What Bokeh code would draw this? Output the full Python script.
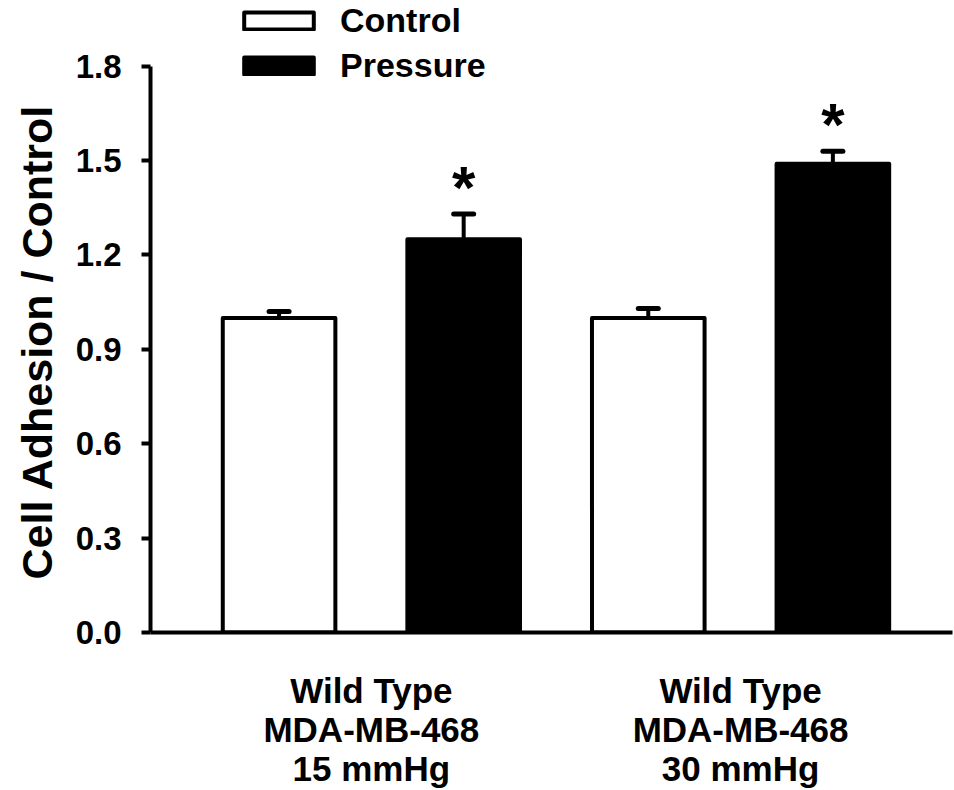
from bokeh.plotting import figure
from bokeh.models import (ColumnDataSource, Range1d, FixedTicker, Legend, LegendItem,
                          Whisker, TeeHead, Title)
from bokeh.core.properties import value
from bokeh.embed import file_html
from bokeh.resources import INLINE

# ---- data ----
groups = ["Wild Type\nMDA-MB-468\n15 mmHg", "Wild Type\nMDA-MB-468\n30 mmHg"]
series = ["Control", "Pressure"]
control_vals = [1.00, 1.00]
control_err = [0.02, 0.03]
pressure_vals = [1.25, 1.49]
pressure_err = [0.08, 0.04]
pressure_sig = ["*", "*"]
y_ticks = [0.0, 0.3, 0.6, 0.9, 1.2, 1.5, 1.8]
y_label = "Cell Adhesion / Control"

FONT = "Liberation Sans"

# positions: each group has 2 bars, uniformly spaced
def xpos(gi, si):
    return gi * 2 + si + 1

cx = [xpos(i, 0) for i in range(len(groups))]
px = [xpos(i, 1) for i in range(len(groups))]

src_c = ColumnDataSource(dict(x=cx, top=control_vals,
                              up=[v + e for v, e in zip(control_vals, control_err)]))
src_p = ColumnDataSource(dict(x=px, top=pressure_vals,
                              up=[v + e for v, e in zip(pressure_vals, pressure_err)],
                              sig=pressure_sig))

# frame spans full height above the x axis so the legend is not clipped;
# the y axis line itself is bounded to 0..1.8
y_max = 1.8 * 635 / 569
p = figure(width=954, height=790, output_backend="svg", toolbar_location=None,
           x_range=Range1d(0.3035, 4.648), y_range=Range1d(0, y_max),
           min_border_left=150, min_border_right=2, min_border_top=0,
           min_border_bottom=155)
p.outline_line_color = None
p.grid.grid_line_color = None
p.background_fill_color = "white"

bw = 0.61
r_c = p.vbar(x="x", top="top", bottom=0, width=bw, source=src_c,
             fill_color="white", line_color="black", line_width=4, line_join="round")
r_p = p.vbar(x="x", top="top", bottom=0, width=bw, source=src_p,
             fill_color="black", line_color="black", line_width=4, line_join="round")

for src in (src_c, src_p):
    w = Whisker(source=src, base="x", lower="top", upper="up", dimension="height",
                line_color="black", line_width=4, line_cap="round",
                upper_head=TeeHead(size=20, line_color="black", line_width=5, line_cap="round"),
                lower_head=None, level="underlay")
    p.add_layout(w)

p.text(x="x", y="up", text="sig", source=src_p, text_align="center",
       text_baseline="alphabetic", y_offset=-27, text_font=value(FONT),
       text_font_style="bold", text_font_size="60px", text_color="black")

# axes
p.yaxis.ticker = FixedTicker(ticks=y_ticks)
p.yaxis.bounds = (0, 1.8)
p.yaxis.major_label_overrides = {t: f"{t:.1f}" for t in y_ticks}
p.yaxis.major_label_text_font = FONT
p.yaxis.major_label_text_font_style = "bold"
p.yaxis.major_label_text_font_size = "33px"
p.yaxis.major_label_standoff = 20
p.yaxis.major_tick_in = 0
p.yaxis.major_tick_out = 9
p.yaxis.major_tick_line_width = 4
p.yaxis.minor_tick_line_color = None
p.yaxis.axis_line_width = 4
p.yaxis.axis_line_color = "black"
p.yaxis.major_label_text_color = "black"

# y axis label as a side title, so it can be centred on the 0..1.8 span
p.add_layout(Title(text=y_label, text_font=FONT, text_font_style="bold",
                   text_font_size="43px", text_color="black", align="left",
                   vertical_align="top", offset=53, standoff=20), "left")

centers = [(xpos(i, 0) + xpos(i, 1)) / 2 for i in range(len(groups))]
p.xaxis.ticker = FixedTicker(ticks=centers)
p.xaxis.major_label_overrides = {c: g for c, g in zip(centers, groups)}
p.xaxis.major_tick_line_color = None
p.xaxis.minor_tick_line_color = None
p.xaxis.major_tick_in = 0
p.xaxis.major_tick_out = 0
p.xaxis.axis_line_width = 4
p.xaxis.axis_line_color = "black"
p.xaxis.major_label_text_font = FONT
p.xaxis.major_label_text_font_style = "bold"
p.xaxis.major_label_text_font_size = "35px"
p.xaxis.major_label_text_line_height = 1.0
p.xaxis.major_label_text_color = "black"
p.xaxis.major_label_standoff = 38

legend = Legend(items=[LegendItem(label=series[0], renderers=[r_c]),
                       LegendItem(label=series[1], renderers=[r_p])],
                location=(85, 547), padding=0, margin=0, spacing=6,
                glyph_width=87, glyph_height=21, label_standoff=18,
                label_text_font=FONT, label_text_font_style="bold",
                label_text_font_size="34px", label_text_color="black",
                border_line_color=None, background_fill_alpha=0)
p.add_layout(legend, "center")

open("out.html", "w").write(file_html(p, INLINE))
